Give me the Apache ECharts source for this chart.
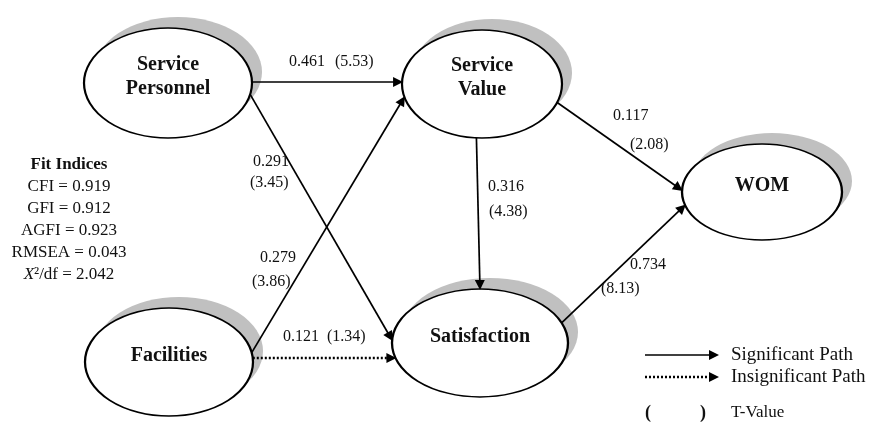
<!DOCTYPE html>
<html><head><meta charset="utf-8">
<script src="https://cdn.jsdelivr.net/npm/echarts@6/dist/echarts.min.js"></script>
<style>html,body{margin:0;padding:0;background:#fff}#c{width:873px;height:425px}</style>
</head><body><div id="c"></div>
<script>
// ---------- data ----------
const constructs = ['Service\nPersonnel', 'Service\nValue', 'Satisfaction', 'Facilities', 'WOM'];
const pathFrom = [0, 0, 3, 3, 1, 1, 2];
const pathTo   = [1, 2, 1, 2, 2, 4, 4];
const coefficients = [0.461, 0.291, 0.279, 0.121, 0.316, 0.117, 0.734];
const tValues      = [5.53, 3.45, 3.86, 1.34, 4.38, 2.08, 8.13];
const significant  = [true, true, true, false, true, true, true];
const fitTitle = 'Fit Indices';
const fitNames  = ['CFI', 'GFI', 'AGFI', 'RMSEA', 'X²/df'];
const fitValues = ['0.919', '0.912', '0.923', '0.043', '2.042'];
const legendLabels = ['Significant Path', 'Insignificant Path'];
const tValueLabel = 'T-Value';

// ---------- layout ----------
const nodeCenter = [[168, 83], [482, 84], [480, 343], [169, 362], [762, 192]];
const nodeRadius = [[84, 55], [80, 54], [88, 54], [84, 54], [80, 48]];
const shadowOffset = [10, -11];
const startAngle = [-1, 12, -10, -4, 94, 20, -22];
const endAngle   = [182, 183, 166, 164, 270, 182, 164];
const coefPos = [[289, 62], [253, 162], [260, 258], [283, 337], [488, 187], [613, 116], [630, 265]];
const tPos    = [[335, 62], [250, 183], [252, 282], [327, 337], [489, 212], [630, 145], [601, 289]];
const fitX = 69, fitY0 = 165, fitStep = 22;
const legendLine = [[645, 718], [355, 377]];
const legendTextX = 731;
const tLegendY = 413;

const SERIF = '"Liberation Serif", "DejaVu Serif", serif';

function ellipsePt(n, deg) {
  const t = deg * Math.PI / 180;
  return [nodeCenter[n][0] + nodeRadius[n][0] * Math.cos(t),
          nodeCenter[n][1] + nodeRadius[n][1] * Math.sin(t)];
}
function shorten(a, b, d) {
  const dx = b[0] - a[0], dy = b[1] - a[1], L = Math.hypot(dx, dy);
  return [b[0] - dx / L * d, b[1] - dy / L * d];
}

const solidData = [], dottedData = [];
pathFrom.forEach((f, i) => {
  const a = ellipsePt(f, startAngle[i]);
  let b = ellipsePt(pathTo[i], endAngle[i]);
  b = shorten(a, b, 4);
  (significant[i] ? solidData : dottedData).push({ coords: [a, b] });
});

const chart = echarts.init(document.getElementById('c'), null, { renderer: 'canvas' });

const textStyle = (txt, x, y, size, weight, align) => ({
  type: 'text', x: x, y: y,
  style: {
    text: txt, fontFamily: SERIF, fontSize: size, fontWeight: weight || 'normal',
    fill: '#111', align: align || 'left', verticalAlign: 'middle',
    textAlign: align || 'left', textVerticalAlign: 'middle'
  }
});

chart.setOption({
  animation: false,
  backgroundColor: '#fff',
  grid: { left: 0, right: 0, top: 0, bottom: 0 },
  xAxis: { type: 'value', min: 0, max: 873, show: false },
  yAxis: { type: 'value', min: 0, max: 425, inverse: true, show: false },
  series: [
    { // shadows
      type: 'scatter', z: 1, silent: true,
      data: nodeCenter.map((c, i) => ({
        value: [c[0] + shadowOffset[0], c[1] + shadowOffset[1]],
        symbolSize: [nodeRadius[i][0] * 2, nodeRadius[i][1] * 2]
      })),
      symbol: 'circle',
      itemStyle: { color: '#c0c0c0', opacity: 1 }
    },
    { // constructs
      type: 'scatter', z: 2, silent: true,
      data: nodeCenter.map((c, i) => ({
        value: [c[0], c[1]], name: constructs[i],
        symbolSize: [nodeRadius[i][0] * 2, nodeRadius[i][1] * 2]
      })),
      symbol: 'circle',
      itemStyle: { color: '#fff', borderColor: '#000', borderWidth: 1.8, opacity: 1 },
      label: {
        show: true, position: 'inside', offset: [0, -6],
        formatter: p => p.name,
        fontFamily: SERIF, fontSize: 20, fontWeight: 'bold', color: '#111', lineHeight: 24
      }
    },
    { // significant paths
      type: 'lines', coordinateSystem: 'cartesian2d', z: 3, silent: true,
      data: solidData.concat([{ coords: [[legendLine[0][0], legendLine[1][0]], [legendLine[0][1] - 4, legendLine[1][0]]] }]),
      symbol: ['none', 'triangle'], symbolSize: 10,
      lineStyle: { color: '#000', width: 1.7, opacity: 1 }
    },
    { // insignificant paths
      type: 'lines', coordinateSystem: 'cartesian2d', z: 3, silent: true,
      data: dottedData.concat([{ coords: [[legendLine[0][0], legendLine[1][1]], [legendLine[0][1] - 4, legendLine[1][1]]] }]),
      symbol: ['none', 'triangle'], symbolSize: 10,
      lineStyle: { color: '#000', width: 2.4, type: [2, 2], opacity: 1 }
    },
    { // path labels
      type: 'custom', z: 4, silent: true,
      data: coefficients.map((c, i) => [i]),
      renderItem: (params, api) => {
        const i = params.dataIndex;
        const p1 = api.coord(coefPos[i]);
        const p2 = api.coord(tPos[i]);
        return { type: 'group', children: [
          textStyle(coefficients[i].toFixed(3), p1[0], p1[1], 16),
          textStyle('(' + tValues[i].toFixed(2) + ')', p2[0], p2[1], 16)
        ] };
      }
    },
    { // fit indices
      type: 'custom', z: 4, silent: true,
      data: [[0]],
      renderItem: (params, api) => {
        const children = [];
        const p0 = api.coord([fitX, fitY0]);
        children.push(textStyle(fitTitle, p0[0], p0[1], 17, 'bold', 'center'));
        fitNames.forEach((n, i) => {
          const p = api.coord([fitX, fitY0 + fitStep * (i + 1)]);
          const el = textStyle(n + ' = ' + fitValues[i], p[0], p[1], 17, 'normal', 'center');
          if (n.charAt(0) === 'X') {
            el.style.text = '{i|X}' + n.slice(1) + ' = ' + fitValues[i];
            el.style.rich = { i: { fontFamily: SERIF, fontSize: 17, fontStyle: 'italic', fill: '#111', color: '#111' } };
          }
          children.push(el);
        });
        return { type: 'group', children: children };
      }
    },
    { // legend text
      type: 'custom', z: 4, silent: true,
      data: [[0]],
      renderItem: (params, api) => {
        const children = legendLabels.map((t, i) => {
          const p = api.coord([legendTextX, legendLine[1][i]]);
          return textStyle(t, p[0], p[1], 19);
        });
        const a = api.coord([legendLine[0][0], tLegendY]);
        const b = api.coord([700, tLegendY]);
        const c = api.coord([legendTextX, tLegendY]);
        children.push(textStyle('(', a[0], a[1], 18, 'bold'));
        children.push(textStyle(')', b[0], b[1], 18, 'bold'));
        children.push(textStyle(tValueLabel, c[0], c[1], 17));
        return { type: 'group', children: children };
      }
    }
  ]
});
</script>
</body></html>
